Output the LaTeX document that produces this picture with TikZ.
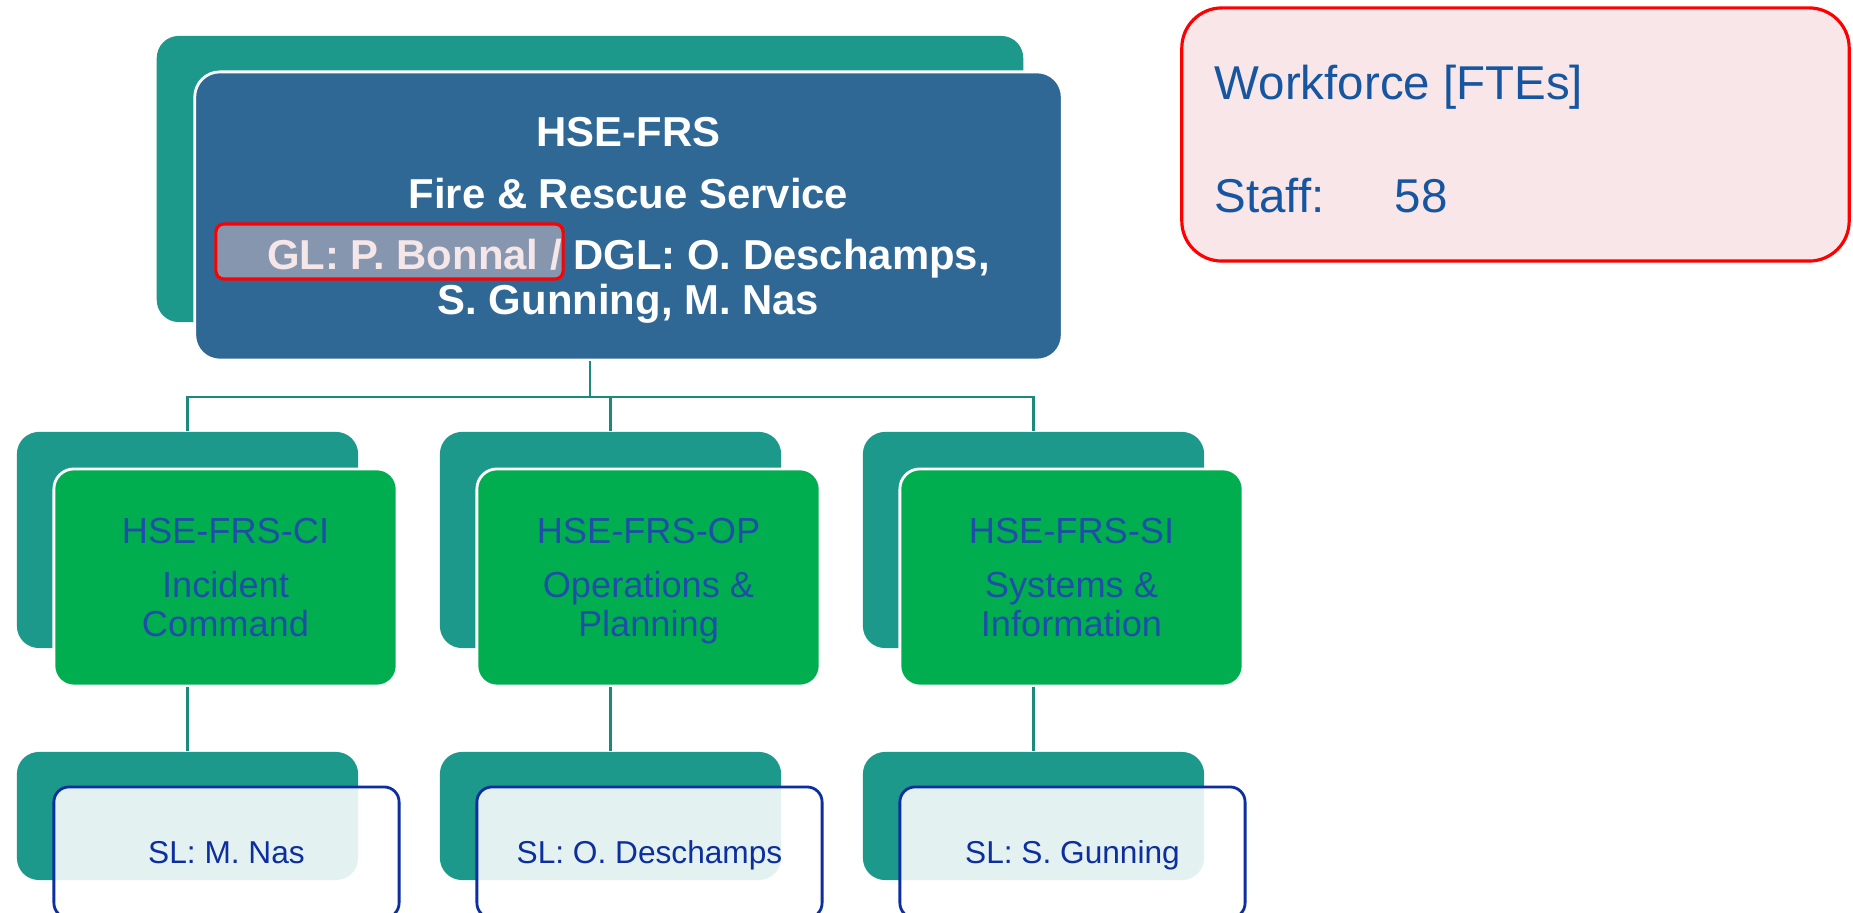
\documentclass[tikz,border=0pt]{standalone}
\usepackage{fontspec}
\setmainfont{Liberation Sans}
\usetikzlibrary{calc,positioning}
\definecolor{tealbk}{RGB}{29,153,140}
\definecolor{hseblue}{RGB}{47,104,149}
\definecolor{unitgreen}{RGB}{0,174,79}
\definecolor{linkteal}{RGB}{27,138,125}
\definecolor{unittext}{RGB}{31,78,168}
\definecolor{sltext}{RGB}{12,46,158}
\definecolor{wfpink}{RGB}{248,230,232}
\definecolor{wftext}{RGB}{22,86,160}
\definecolor{glpink}{RGB}{234,202,206}
\tikzstyle{back} = [fill=tealbk, rounded corners=0.22cm, inner sep=0pt]
\tikzstyle{link} = [draw=linkteal, line width=0.6pt]

\begin{document}
\begin{tikzpicture}[x=0.01cm,y=-0.01cm]
\tikzset{headbox/.style={fill=hseblue,draw=white,line width=0.8pt,rounded corners=0.25cm,minimum width=8.67cm,minimum height=2.88cm,text=white,align=center,text depth=0pt,font=\fontsize{11.9}{12.8}\selectfont\bfseries},
unitbox/.style={fill=unitgreen,draw=white,line width=0.8pt,rounded corners=0.2cm,minimum width=3.43cm,minimum height=2.17cm,text=unittext,align=center,text depth=0pt,font=\fontsize{10.3}{11.1}\selectfont},
slbox/.style={fill=white,fill opacity=0.88,text opacity=1,draw=sltext,line width=0.8pt,rounded corners=0.15cm,minimum width=3.45cm,minimum height=1.31cm,text=sltext,text depth=0pt,font=\fontsize{9}{10}\selectfont},
glmark/.style={draw=red,line width=0.9pt,fill=glpink,fill opacity=0.47,rounded corners=0.08cm,minimum width=3.47cm,minimum height=0.55cm},
wfbox/.style={draw=red,line width=0.9pt,fill=wfpink,rounded corners=0.4cm,minimum width=6.67cm,minimum height=2.53cm},
wftxt/.style={anchor=base west,inner sep=0pt,text=wftext,font=\fontsize{13.5}{16}\selectfont}}
\useasboundingbox (0,0) rectangle (1853,913);
\clip (0,0) rectangle (1853,913);

% head of the service
\node[back, minimum width=8.66cm, minimum height=2.86cm] (topback) at (590,179) {};
\node[headbox] (top) at (628.5,216) {HSE-FRS\\[4.6pt] Fire \& Rescue Service\\[4.6pt] GL: P. Bonnal / DGL: O. Deschamps,\\ S. Gunning, M. Nas};
\node[glmark] (gl) at (389.5,251.5) {};

% workforce
\node[wfbox] (staff) at (1515.5,134.5) {};
\node[wftxt] (staff-title) at (1214,100) {Workforce [FTEs]};
\node[wftxt] (staff-count) at (1214,212.5) {\makebox[1.8cm][l]{Staff:}58};

% sections
\foreach \n/\i/\code/\title/\sl in {ci/0/CI/Incident\\Command/M. Nas, op/1/OP/Operations \&\\Planning/O. Deschamps, si/2/SI/Systems \&\\Information/S. Gunning} {
\node[back, minimum width=3.41cm, minimum height=2.16cm] (\n-back) at (187.5+423*\i,540) {};
\node[unitbox] (\n) at (225.5+423*\i,577.5) {HSE-FRS-\code\\[4.3pt]\title};
\node[back, minimum width=3.41cm, minimum height=1.28cm] (\n-slback) at (187.5+423*\i,816) {};
\node[slbox] (\n-sl) at (226.5+423*\i,852.5) {SL: \sl};
\draw[link] (\n.south -| \n-back) -- (\n-slback.north); }

\coordinate (bus) at (0,397);
\foreach \n in {ci,op,si}
\draw[link] (top.south -| topback) -- (topback |- bus) -| (\n-back.north);

\end{tikzpicture}
\end{document}
